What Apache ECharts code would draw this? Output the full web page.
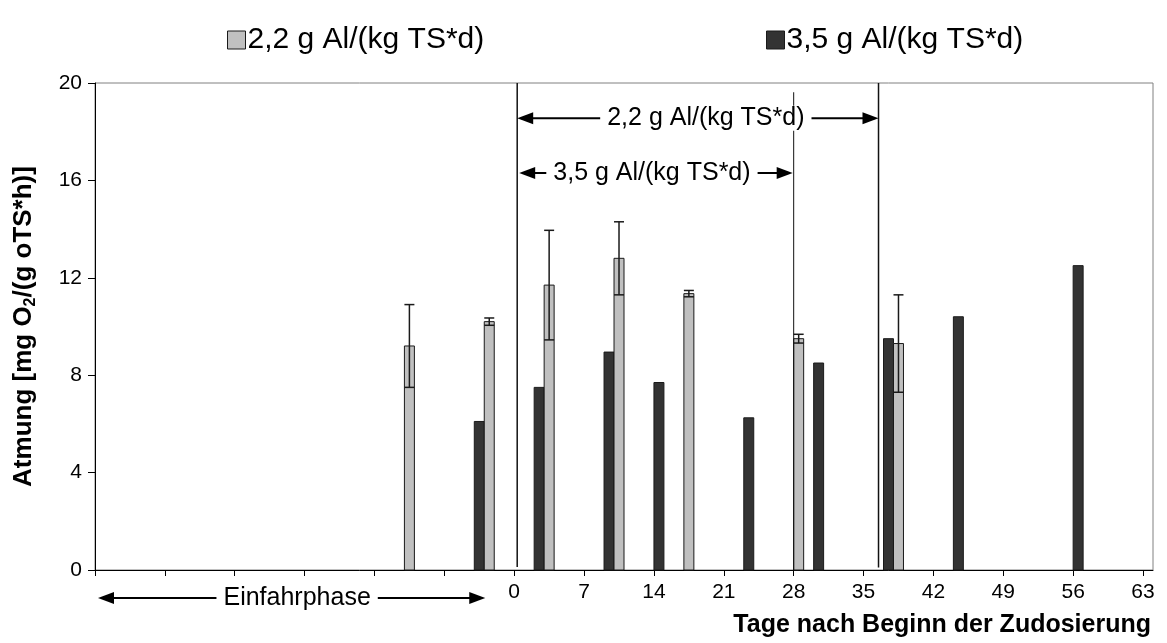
<!DOCTYPE html>
<html><head><meta charset="utf-8">
<script src="https://cdn.jsdelivr.net/npm/echarts@6/dist/echarts.min.js"></script>
<style>html,body{margin:0;padding:0;background:#fff}#c{width:1167px;height:643px}</style>
</head><body><div id="c"></div>
<script>
// ---- data ----
const seriesNames = ['2,2 g Al/(kg TS*d)', '3,5 g Al/(kg TS*d)'];
const lowDays   = [-11, -3, 3, 10, 17, 28, 38];
const lowValues = [9.2, 10.2, 11.7, 12.8, 11.35, 9.5, 9.3];
const lowErrors = [1.7, 0.15, 2.25, 1.5, 0.13, 0.18, 2.0];
const highDays   = [-4, 2, 9, 14, 23, 30, 37, 44, 56];
const highValues = [6.1, 7.5, 8.95, 7.7, 6.25, 8.5, 9.5, 10.4, 12.5];
const xTickValues  = [-42, -35, -28, -21, -14, -7, 0, 7, 14, 21, 28, 35, 42, 49, 56, 63];
const xLabelValues = [0, 7, 14, 21, 28, 35, 42, 49, 56, 63];
const xAxisTitle = 'Tage nach Beginn der Zudosierung';
const phaseLabel = 'Einfahrphase';

const FONT = '"Liberation Sans", Arial, sans-serif';
const LOW_COLOR = '#c0c0c0', HIGH_COLOR = '#333333', EDGE = '#1a1a1a';

function barRender(fill, withErr) {
  return function (params, api) {
    const d = api.value(0), v = api.value(1);
    const p0 = api.coord([d, v]);
    const p1 = api.coord([d + 1, 0]);
    const children = [{
      type: 'rect',
      shape: { x: p0[0], y: p0[1], width: p1[0] - p0[0], height: p1[1] - p0[1] },
      style: { fill: fill, stroke: EDGE, lineWidth: 1 }
    }];
    if (withErr) {
      const e = api.value(2);
      const top = api.coord([d, v + e])[1];
      const bot = api.coord([d, v - e])[1];
      const xc = (p0[0] + p1[0]) / 2;
      const st = { stroke: '#1a1a1a', lineWidth: 1.5 };
      children.push({ type: 'line', shape: { x1: xc, y1: top, x2: xc, y2: bot }, style: st });
      children.push({ type: 'line', shape: { x1: p0[0], y1: top, x2: p1[0], y2: top }, style: st });
      children.push({ type: 'line', shape: { x1: p0[0], y1: bot, x2: p1[0], y2: bot }, style: st });
    }
    return { type: 'group', children: children };
  };
}

const lowData = lowDays.map((d, i) => [d, lowValues[i], lowErrors[i]]);
const highData = highDays.map((d, i) => [d, highValues[i]]);

const chart = echarts.init(document.getElementById('c'), null, { renderer: 'canvas' });
const legendText = { fontSize: 30, color: '#000', fontFamily: FONT, padding: [0, 0, 0, -3] };
const option = {
  animation: false,
  backgroundColor: '#fff',
  textStyle: { fontFamily: FONT, color: '#000' },
  legend: [
    { data: [{ name: seriesNames[0], icon: 'rect', itemStyle: { color: LOW_COLOR, borderColor: EDGE, borderWidth: 1 } }],
      left: 222, top: 20, itemWidth: 18, itemHeight: 18, itemGap: 0, textStyle: legendText },
    { data: [{ name: seriesNames[1], icon: 'rect', itemStyle: { color: HIGH_COLOR, borderColor: EDGE, borderWidth: 1 } }],
      left: 761, top: 20, itemWidth: 18, itemHeight: 18, itemGap: 0, textStyle: legendText }
  ],
  grid: { left: 95, right: 14, top: 83, bottom: 73, show: true, borderColor: '#808080', borderWidth: 1, backgroundColor: 'transparent' },
  xAxis: {
    type: 'value', min: -42, max: 64, interval: 7,
    axisLine: { onZero: false, lineStyle: { color: '#000', width: 1 } },
    axisTick: { customValues: xTickValues, length: 6, lineStyle: { color: '#000' } },
    axisLabel: { customValues: xLabelValues, margin: 12, fontSize: 21, color: '#000', fontFamily: FONT },
    splitLine: { show: false },
    name: xAxisTitle, nameLocation: 'end', nameGap: -2,
    nameTextStyle: { fontSize: 25, fontWeight: 'bold', color: '#000', fontFamily: FONT, align: 'right', verticalAlign: 'top', padding: [43, 0, 0, 0] }
  },
  yAxis: {
    type: 'value', min: 0, max: 20, interval: 4,
    axisLine: { show: true, onZero: false, lineStyle: { color: '#000', width: 1 } },
    axisTick: { show: true, length: 7, lineStyle: { color: '#000' } },
    axisLabel: { margin: 13, fontSize: 21, color: '#000', fontFamily: FONT },
    splitLine: { show: false },
    name: 'Atmung [mg O{sub|2}/(g oTS*h)]', nameLocation: 'middle', nameRotate: 90, nameGap: 56,
    nameTextStyle: {
      fontSize: 26, fontWeight: 'bold', color: '#000', fontFamily: FONT, lineHeight: 30,
      rich: { sub: { fontSize: 16, fontWeight: 'bold', fontFamily: FONT, verticalAlign: 'bottom', lineHeight: 30 } }
    }
  },
  series: [
    { name: seriesNames[0], type: 'custom', renderItem: barRender(LOW_COLOR, true), data: lowData,
      encode: { x: 0, y: 1 }, itemStyle: { color: LOW_COLOR, borderColor: EDGE, borderWidth: 1 }, z: 3 },
    { name: seriesNames[1], type: 'custom', renderItem: barRender(HIGH_COLOR, false), data: highData,
      encode: { x: 0, y: 1 }, itemStyle: { color: HIGH_COLOR, borderColor: EDGE, borderWidth: 1 }, z: 2 }
  ]
};
chart.setOption(option);

// ---- annotations (positions in data coordinates, converted through the axes) ----
const vLines = [
  { x: 0.3, y0: 20, y1: 0.12, w: 1.5 },
  { x: 28, y0: 19.62, y1: 0, w: 1 },
  { x: 36.5, y0: 20, y1: 0.1, w: 1.5 }
];
const arrows = [
  { x0: 0.3, x1: 36.5, y: 18.55, tx: 19.2, text: seriesNames[0] },
  { x0: 0.5, x1: 27.9, y: 16.3, tx: 13.8, text: seriesNames[1] },
  { x0: -41.7, x1: -2.9, y: -1.15, tx: -21.75, text: phaseLabel }
];
const px = (x, y) => chart.convertToPixel({ gridIndex: 0 }, [x, y]);
const g = [];
vLines.forEach(l => {
  const a = px(l.x, l.y0), b = px(l.x, l.y1);
  g.push({ type: 'line', z: 50, shape: { x1: a[0], y1: a[1], x2: b[0], y2: b[1] }, style: { stroke: '#111', lineWidth: l.w } });
});
arrows.forEach(ar => {
  const a = px(ar.x0, ar.y), b = px(ar.x1, ar.y), t = px(ar.tx, ar.y);
  const y = a[1], L = 16, H = 6;
  g.push({ type: 'line', z: 51, shape: { x1: a[0] + 4, y1: y, x2: b[0] - 4, y2: y }, style: { stroke: '#000', lineWidth: 2 } });
  g.push({ type: 'polygon', z: 52, shape: { points: [[a[0], y], [a[0] + L, y - H], [a[0] + L, y + H]] }, style: { fill: '#000' } });
  g.push({ type: 'polygon', z: 52, shape: { points: [[b[0], y], [b[0] - L, y - H], [b[0] - L, y + H]] }, style: { fill: '#000' } });
  g.push({ type: 'text', z: 53, x: t[0], y: y,
    style: { text: ar.text, fontSize: 25, fontFamily: FONT, fill: '#000', align: 'center', verticalAlign: 'middle',
             backgroundColor: '#fff', padding: [0, 7] } });
});
chart.setOption({ graphic: g });
</script>
</body></html>
